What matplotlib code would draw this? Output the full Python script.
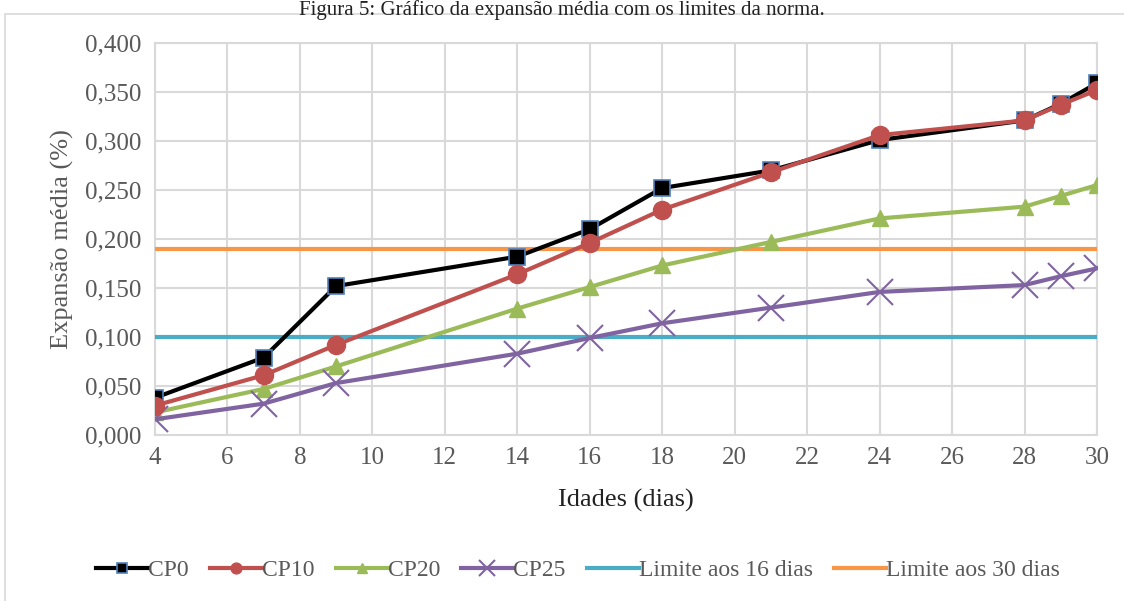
import matplotlib.pyplot as plt
from matplotlib.patches import Rectangle
from matplotlib.ticker import MultipleLocator, FuncFormatter

plt.rcParams['font.family'] = ['Liberation Serif', 'DejaVu Serif']

# idades de ensaio (dias) e expansão média (%)
idades = [4, 7, 9, 14, 16, 18, 21, 24, 28, 29, 30]
cp0 = [0.038, 0.079, 0.152, 0.182, 0.210, 0.252, 0.270, 0.301, 0.321, 0.338, 0.359]
cp10 = [0.030, 0.061, 0.092, 0.164, 0.196, 0.230, 0.268, 0.306, 0.321, 0.337, 0.352]
cp20 = [0.023, 0.047, 0.070, 0.129, 0.151, 0.173, 0.197, 0.221, 0.233, 0.244, 0.255]
cp25 = [0.016, 0.032, 0.053, 0.083, 0.099, 0.114, 0.130, 0.146, 0.153, 0.162, 0.170]
limite_16 = 0.10
limite_30 = 0.19

fig = plt.figure(figsize=(11.24, 6.01), dpi=100)
fig.patches.append(Rectangle((5 / 1124, -0.01), 1.2, 1 - 14 / 601 + 0.01,
                             transform=fig.transFigure, fill=False,
                             edgecolor='#D9D9D9', linewidth=1.2))
fig.text(0.5, 1.0, 'Figura 5: Gráfico da expansão média com os limites da norma.',
         ha='center', va='top', fontsize=15, color='#222222')

ax = fig.add_axes([155 / 1124, 1 - 435 / 601, (1097 - 155) / 1124, (435 - 43) / 601])

lw = 3
ax.plot(idades, cp0, color='black', lw=lw, marker='s', markersize=11,
        markerfacecolor='black', markeredgecolor='#4F81BD', markeredgewidth=1.2,
        label='CP0', zorder=5)
ax.plot(idades, cp10, color='#C0504D', lw=lw, marker='o', markersize=13,
        label='CP10', zorder=6)
ax.plot(idades, cp20, color='#9BBB59', lw=lw, marker='^', markersize=12,
        label='CP20', zorder=4)
ax.plot(idades, cp25, color='#8064A2', lw=lw, marker='x', markersize=19,
        markeredgewidth=1.5, label='CP25', zorder=4)
ax.axhline(limite_16, color='#4BACC6', lw=lw, label='Limite aos 16 dias', zorder=3)
ax.axhline(limite_30, color='#F79646', lw=lw, label='Limite aos 30 dias', zorder=3)

ax.set_xlim(4, 30)
ax.set_ylim(0, 0.4)
ax.xaxis.set_major_locator(MultipleLocator(2))
ax.yaxis.set_major_locator(MultipleLocator(0.05))
ax.yaxis.set_major_formatter(FuncFormatter(lambda v, p: f'{v:.3f}'.replace('.', ',')))
ax.grid(True, color='#D9D9D9', lw=1.5)
ax.set_axisbelow(True)
for s in ax.spines.values():
    s.set_color('#D9D9D9')
    s.set_linewidth(1.5)
ax.tick_params(length=0, labelsize=18, labelcolor='#595959')
ax.tick_params(axis='y', pad=10)
ax.tick_params(axis='x', pad=9)

ax.set_xlabel('Idades (dias)', fontsize=19, color='#222222', labelpad=14)
ax.set_ylabel('Expansão média (%)', fontsize=19, color='#595959', labelpad=8)

fig.legend(loc='center', bbox_to_anchor=(578 / 1124, 1 - 570 / 601), ncol=6,
           frameon=False, fontsize=17, handlelength=2.2, handletextpad=0.0,
           columnspacing=0.9, labelcolor='#595959', markerscale=0.6)

fig.savefig('out.png', dpi=100)
